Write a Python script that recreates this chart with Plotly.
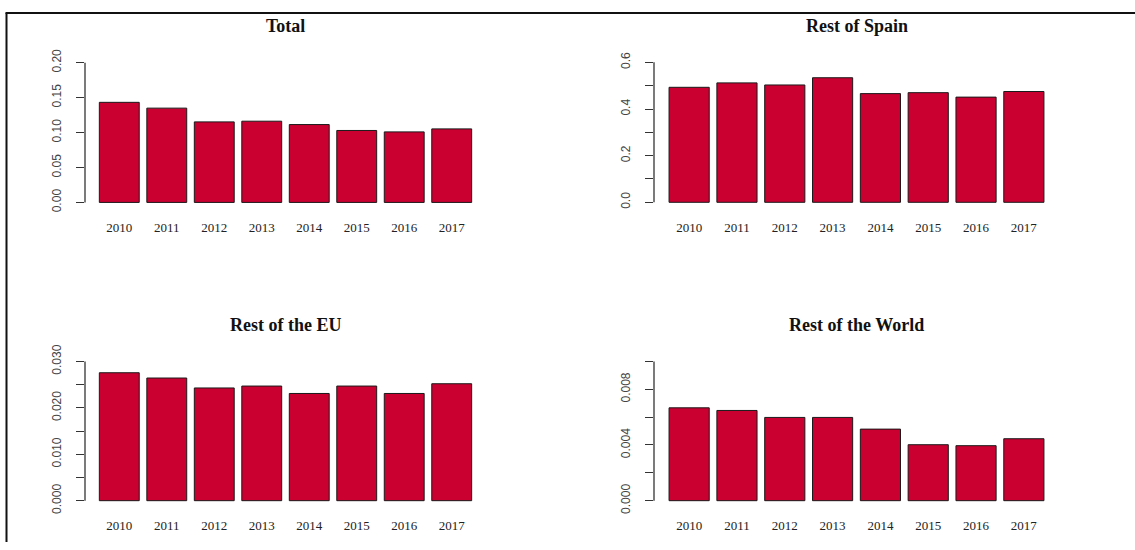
import plotly.graph_objects as go

years = ["2010", "2011", "2012", "2013", "2014", "2015", "2016", "2017"]
total = [0.1433, 0.1350, 0.1153, 0.1163, 0.1115, 0.1030, 0.1010, 0.1053]
rest_spain = [0.493, 0.512, 0.503, 0.534, 0.466, 0.470, 0.451, 0.475]
rest_eu = [0.02757, 0.02643, 0.02429, 0.02470, 0.02310, 0.02470, 0.02310, 0.02520]
rest_world = [0.00667, 0.00648, 0.00598, 0.00598, 0.00514, 0.00402, 0.00395, 0.00445]

titles = ["Total", "Rest of Spain", "Rest of the EU", "Rest of the World"]

tick_total = [0.0, 0.05, 0.10, 0.15, 0.20]
tick_total_txt = ["0.00", "0.05", "0.10", "0.15", "0.20"]
tick_spain = [0.0, 0.1, 0.2, 0.3, 0.4, 0.5, 0.6]
tick_spain_txt = ["0.0", "", "0.2", "", "0.4", "", "0.6"]
tick_eu = [0.0, 0.005, 0.010, 0.015, 0.020, 0.025, 0.030]
tick_eu_txt = ["0.000", "", "0.010", "", "0.020", "", "0.030"]
tick_world = [0.0, 0.002, 0.004, 0.006, 0.008, 0.010]
tick_world_txt = ["0.000", "", "0.004", "", "0.008", ""]

W, H = 1135, 550
BAR = "#C90030"

# observed vertical placement of the rendered figure: y_screen = Y0 + K * y_layout
Y0, K = 8.6, 0.969


def ypaper(y_px):
    """paper fraction for a target screen pixel row"""
    return 1 - ((y_px - Y0) / K) / H


panels = [
    dict(vals=total, tv=tick_total, tt=tick_total_txt, px=(85, 486), py=(54, 205.7),
         xr=[-0.722, 7.722], yr=[-0.008, 0.208], top=0.20, title=titles[0]),
    dict(vals=rest_spain, tv=tick_spain, tt=tick_spain_txt, px=(654, 1059), py=(53.6, 205.6),
         xr=[-0.735, 7.735], yr=[-0.024, 0.624], top=0.6, title=titles[1]),
    dict(vals=rest_eu, tv=tick_eu, tt=tick_eu_txt, px=(85, 486), py=(354.4, 505.6),
         xr=[-0.722, 7.722], yr=[-0.0012, 0.0312], top=0.030, title=titles[2]),
    dict(vals=rest_world, tv=tick_world, tt=tick_world_txt, px=(654, 1059), py=(354.4, 505.6),
         xr=[-0.735, 7.735], yr=[-0.0004, 0.0104], top=0.010, title=titles[3]),
]

fig = go.Figure()
shapes = []
annotations = []
layout = {}
for i, p in enumerate(panels):
    n = "" if i == 0 else str(i + 1)
    xa, ya = "x" + n, "y" + n
    fig.add_trace(go.Bar(
        x=years, y=p["vals"], xaxis=xa, yaxis=ya,
        marker=dict(color=BAR, line=dict(color="#1a1a1a", width=1)),
        width=0.84, showlegend=False, hoverinfo="x+y",
    ))
    xd = [p["px"][0] / W, p["px"][1] / W]
    yd = [ypaper(p["py"][1]), ypaper(p["py"][0])]
    layout["xaxis" + n] = dict(
        domain=xd, range=p["xr"], type="category", anchor=ya,
        showline=False, showgrid=False, zeroline=False, ticks="",
        tickfont=dict(family="Liberation Serif", size=13, color="#222"),
        ticklabelstandoff=10, fixedrange=True,
    )
    layout["yaxis" + n] = dict(
        domain=yd, range=p["yr"], anchor=xa,
        showline=False, showgrid=False, zeroline=False,
        tickvals=p["tv"], ticktext=p["tt"], ticks="outside", ticklen=8,
        tickwidth=1, tickcolor="#333", tickangle=-90,
        tickfont=dict(family="Liberation Sans", size=12, color="#444"),
        ticklabelstandoff=10, fixedrange=True,
    )
    shapes.append(dict(type="line", xref=xa + " domain", yref=ya,
                       x0=0, x1=0, y0=0, y1=p["top"],
                       line=dict(color="#333", width=1.3)))
    annotations.append(dict(
        text="<b>" + p["title"] + "</b>", xref="paper", yref="paper",
        x=(p["px"][0] + p["px"][1]) / 2 / W,
        y=ypaper(p["py"][0] - 31), xanchor="center", yanchor="middle",
        showarrow=False,
        font=dict(family="Liberation Serif", size=18, color="#111"),
    ))

# outer frame (left and top edges)
top_y = min(1.0, ypaper(9.7))
shapes.append(dict(type="line", xref="paper", yref="paper",
                   x0=6.5 / W, x1=6.5 / W, y0=0, y1=top_y,
                   line=dict(color="#111", width=2)))
shapes.append(dict(type="line", xref="paper", yref="paper",
                   x0=5.5 / W, x1=1, y0=top_y, y1=top_y,
                   line=dict(color="#111", width=2)))

fig.update_layout(
    width=W, height=H, margin=dict(l=0, r=0, t=0, b=0),
    paper_bgcolor="white", plot_bgcolor="white",
    shapes=shapes, annotations=annotations, bargap=0.16,
    **layout,
)
fig.write_html("out.html", config={"displayModeBar": False})
